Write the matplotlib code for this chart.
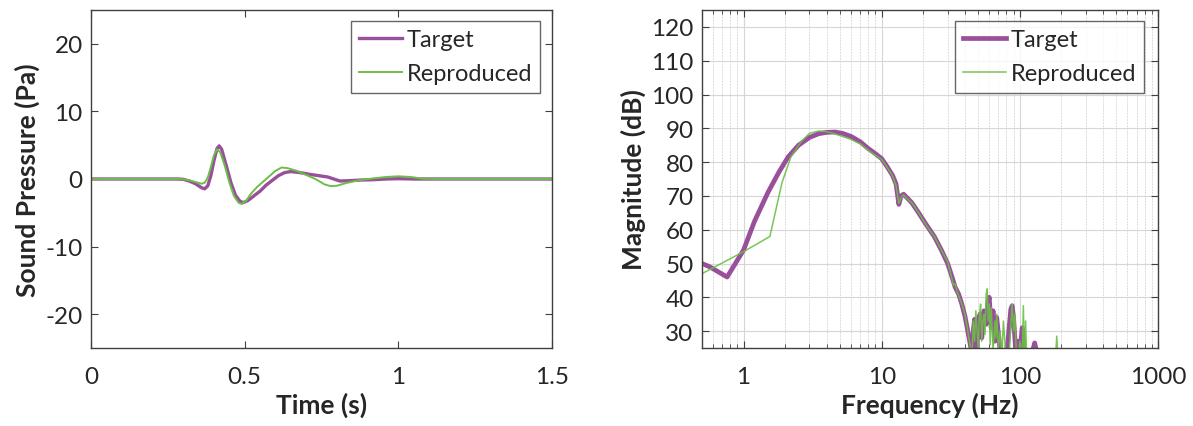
import matplotlib
matplotlib.use("Agg")
import matplotlib.pyplot as plt
from matplotlib.ticker import LogLocator, NullFormatter

plt.rcParams['font.family'] = ['Lato', 'DejaVu Sans']
plt.rcParams['axes.unicode_minus'] = False

# ---- time-domain data ----
t_target = [0, 0.28, 0.30, 0.32, 0.34, 0.36, 0.37, 0.38, 0.39, 0.40, 0.41, 0.417, 0.425,
            0.44, 0.455, 0.47, 0.485, 0.495, 0.51, 0.53, 0.55, 0.57, 0.59, 0.61, 0.63,
            0.65, 0.68, 0.71, 0.74, 0.77, 0.79, 0.81, 0.84, 0.88, 0.92, 0.96, 1.0, 1.05, 1.5]
p_target = [0, 0, -0.05, -0.3, -0.7, -1.3, -1.45, -1.0, 0.5, 2.7, 4.5, 4.9, 4.4,
            2.0, -0.5, -2.4, -3.3, -3.5, -3.2, -2.5, -1.8, -0.9, -0.2, 0.5, 0.95,
            1.1, 0.95, 0.7, 0.5, 0.3, 0.0, -0.3, -0.25, -0.15, -0.1, 0.0, 0.05, 0.0, 0]

t_repro = [0, 0.28, 0.30, 0.32, 0.34, 0.36, 0.37, 0.38, 0.39, 0.40, 0.41, 0.42, 0.435,
           0.45, 0.465, 0.48, 0.49, 0.505, 0.52, 0.54, 0.56, 0.58, 0.60, 0.62, 0.64,
           0.67, 0.70, 0.73, 0.76, 0.78, 0.80, 0.83, 0.87, 0.92, 0.96, 1.0, 1.04, 1.08, 1.12, 1.5]
p_repro = [0, 0, -0.05, -0.2, -0.45, -0.7, -0.55, 0.2, 1.8, 3.5, 4.4, 4.0, 2.0,
           -0.5, -2.5, -3.5, -3.7, -3.2, -2.2, -1.2, -0.4, 0.4, 1.2, 1.7, 1.6,
           1.2, 0.6, 0.0, -0.8, -1.05, -1.0, -0.6, -0.2, 0.1, 0.3, 0.4, 0.3, 0.05, 0.0, 0]

# ---- frequency-domain data ----
f_target = [0.5, 0.57, 0.76, 1.0, 1.2, 1.5, 1.8, 2.1, 2.5, 3.0, 3.5, 4.0, 4.6, 5.2, 6.0,
            7.0, 8.0, 9.0, 10.0, 11.0, 12.0, 12.7, 13.3, 13.8, 14.4, 15.2, 16.5, 18.5,
            21, 24, 27, 30, 32, 34, 36, 38, 40, 42, 44, 45, 46, 47, 48, 49, 50, 51.5,
            53, 55, 57, 58.5, 60, 62, 64, 66, 68, 70, 72, 75, 78, 82, 86, 88, 90, 92,
            94, 97, 100, 104, 108, 112, 120, 128, 132, 140]
m_target = [50, 49, 46, 54, 62.5, 71, 77, 81.5, 85, 87.3, 88.4, 88.8, 88.9, 88.5, 87.6,
            86.0, 84.0, 82.5, 81.0, 78.5, 76.0, 73.5, 67.5, 70.0, 70.5, 69.5, 68.0, 65.0,
            61.5, 58.0, 54.0, 50.0, 46.5, 43, 41, 38, 34.5, 30, 25.5, 22, 30, 33.5, 29, 25,
            33, 35, 28, 36, 32, 38, 40, 31, 36, 27, 34, 29, 24, 20, 22, 27, 36.5, 37.5,
            34, 28, 22, 27, 24, 31, 22, 20, 22, 26.5, 24, 20]

f_repro = [0.5, 1.0, 1.55, 1.9, 2.2, 2.6, 3.0, 3.5, 4.0, 4.6, 5.2, 6.0, 7.0, 8.0, 9.0,
           10, 11, 12, 12.7, 13.3, 13.8, 14.4, 15.2, 16.5, 18.5, 21, 24, 27, 30, 32, 33,
           34, 35, 36, 38, 40, 42, 44, 45, 46, 47, 48, 49, 50, 51, 52, 53, 54, 55, 56,
           57, 58, 59, 60, 61, 62, 64, 66, 67, 68, 70, 72, 74, 76, 80, 84, 86, 88, 90,
           92, 94, 96, 100, 104, 106, 108, 110, 112, 115, 120, 130, 140, 180, 185, 190, 200]
m_repro = [47, 53.5, 58, 74, 81.5, 86, 88.5, 89.2, 89.0, 88.3, 87.6, 86.7, 85.4, 83.5, 82,
           80.8, 78.3, 75.8, 73, 67.8, 69.5, 70.3, 69.2, 68.0, 65.0, 61.3, 58.0, 54.0, 50.5,
           46, 43.5, 44, 42, 40.5, 38, 35, 30, 25, 22, 33, 27, 36, 30, 25, 35, 38, 27, 33,
           35, 29, 41, 42.5, 33, 38, 26, 37, 24, 33, 28, 35, 25, 30, 22, 33, 20, 24, 32,
           38, 30, 35, 25, 20, 27, 22, 37.5, 20, 33, 22, 20, 20, 20, 20, 20, 28.5, 20, 20]

purple = '#98509a'
green = '#6cbf46'
axis_col = '#404040'
text_col = '#262626'

TICK_FS = 17.5
LABEL_FS = 19
LEG_FS = 17

fig = plt.figure(figsize=(11.93, 4.27), dpi=100)
ax1 = fig.add_axes([91/1193, 78/427, 461/1193, 338/427])
ax2 = fig.add_axes([702/1193, 78/427, 456/1193, 338/427])

def style(ax):
    for s in ax.spines.values():
        s.set_color(axis_col)
        s.set_linewidth(1.0)
    ax.tick_params(which='both', direction='in', top=True, right=True,
                   colors=axis_col, labelcolor=text_col, labelsize=TICK_FS)
    ax.tick_params(axis='x', which='both', pad=13)
    ax.tick_params(axis='y', which='both', pad=6)
    ax.tick_params(which='major', length=5)
    ax.tick_params(which='minor', length=3)

def legend(ax, anchor):
    leg = ax.legend(loc='upper right', bbox_to_anchor=anchor, fontsize=LEG_FS,
                    frameon=True, fancybox=False, handlelength=1.8, handletextpad=0.2,
                    borderpad=0.35, labelspacing=0.55, borderaxespad=0)
    leg.get_frame().set_edgecolor(axis_col)
    leg.get_frame().set_linewidth(1.0)
    for txt in leg.get_texts():
        txt.set_color(text_col)
    return leg

# left plot
ax1.plot(t_target, p_target, color=purple, lw=2.4, label='Target')
ax1.plot(t_repro, p_repro, color=green, lw=1.4, label='Reproduced')
ax1.set_xlim(0, 1.5)
ax1.set_ylim(-25, 25)
ax1.set_xticks([0, 0.5, 1, 1.5])
ax1.set_xticklabels(['0', '0.5', '1', '1.5'])
ax1.set_yticks([-20, -10, 0, 10, 20])
style(ax1)
ax1.set_xlabel('Time (s)', fontsize=LABEL_FS, fontweight='bold', color=text_col, labelpad=3)
ax1.set_ylabel('Sound Pressure (Pa)', fontsize=LABEL_FS, fontweight='bold', color=text_col, labelpad=4)
legend(ax1, (0.975, 0.967))

# right plot
ax2.set_xscale('log')
ax2.grid(True, which='major', color='#d6d6d6', lw=0.8)
ax2.grid(True, which='minor', color='#dcdcdc', lw=0.7, ls=(0, (2, 1)))
ax2.set_axisbelow(True)
ax2.plot(f_target, m_target, color=purple, lw=3.4, label='Target')
ax2.plot(f_repro, m_repro, color=green, lw=1.1, alpha=0.9, label='Reproduced')
ax2.set_xlim(0.5, 1000)
ax2.set_ylim(25, 125)
ax2.set_xticks([1, 10, 100, 1000])
ax2.set_xticklabels(['1', '10', '100', '1000'])
ax2.xaxis.set_minor_locator(LogLocator(base=10, subs=range(2, 10), numticks=20))
ax2.xaxis.set_minor_formatter(NullFormatter())
ax2.set_yticks([30, 40, 50, 60, 70, 80, 90, 100, 110, 120])
style(ax2)
ax2.set_xlabel('Frequency (Hz)', fontsize=LABEL_FS, fontweight='bold', color=text_col, labelpad=3)
ax2.set_ylabel('Magnitude (dB)', fontsize=LABEL_FS, fontweight='bold', color=text_col, labelpad=4)
legend(ax2, (0.97, 0.967))

fig.savefig('out.png', dpi=100, facecolor='white')
